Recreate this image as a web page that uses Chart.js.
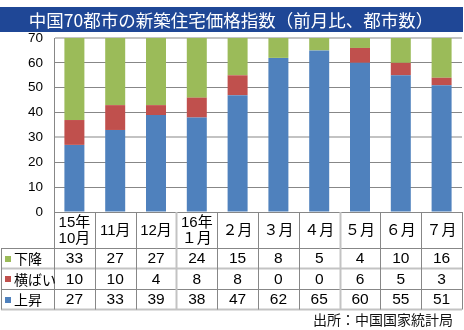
<!DOCTYPE html>
<html><head><meta charset="utf-8">
<script src="https://cdn.jsdelivr.net/npm/chart.js@4.4.1/dist/chart.umd.min.js"></script>
<style>html,body{margin:0;padding:0;background:#fff;}#wrap{width:464px;height:330px;position:relative;}</style>
</head><body><div id="wrap"><canvas id="c" width="464" height="330"></canvas></div>
<script>
const titleText = '中国70都市の新築住宅価格指数（前月比、都市数）';
const sourceText = '出所：中国国家統計局';
const categories = [['15年','10月'],['11月'],['12月'],['16年','１月'],['２月'],['３月'],['４月'],['５月'],['６月'],['７月']];
const seriesNames = ['上昇','横ばい','下降'];
const rising = [27,33,39,38,47,62,65,60,55,51];
const flat = [10,10,4,8,8,0,0,6,5,3];
const falling = [33,27,27,24,15,8,5,4,10,16];
const yMax = 70;
const yStep = 10;

const BLUE='#4F81BD', RED='#C0504D', GREEN='#9BBB59';
const DARK='#878787', LIGHT='#c3c3c3';
const CJK="'Noto Sans CJK JP', sans-serif";
const NUM="'Liberation Sans Narrow','Liberation Sans','Noto Sans CJK JP',sans-serif";

const tablePlugin = {
  id:'tablePlugin',
  beforeDraw(chart){
    const ctx=chart.ctx;
    ctx.save();
    ctx.fillStyle='#fff';ctx.fillRect(0,0,chart.width,chart.height);
    ctx.fillStyle='#1F4796';ctx.fillRect(0,7,463,25);
    ctx.fillStyle='#fff';ctx.font="17.5px "+CJK;ctx.textAlign='center';ctx.textBaseline='middle';
    ctx.fillText(titleText,231,20);
    ctx.restore();
  },
  afterDraw(chart){
    const ctx=chart.ctx, xs=chart.scales.x, ca=chart.chartArea;
    const n=categories.length, w=(ca.right-ca.left)/n;
    const top=ca.bottom, hb=top+36;
    const rowH=20.5;
    const rows=[{name:seriesNames[2],data:falling,color:GREEN},{name:seriesNames[1],data:flat,color:RED},{name:seriesNames[0],data:rising,color:BLUE}];
    const bottom=hb+rowH*rows.length;
    ctx.save();
    const hl=(y,x0,x1,c,lw)=>{ctx.strokeStyle=c;ctx.lineWidth=lw;ctx.beginPath();ctx.moveTo(x0,y);ctx.lineTo(x1,y);ctx.stroke();};
    const vl=(x,y0,y1,c,lw)=>{ctx.strokeStyle=c;ctx.lineWidth=lw;ctx.beginPath();ctx.moveTo(x,y0);ctx.lineTo(x,y1);ctx.stroke();};
    hl(Math.round(top)+0.5,ca.left,ca.right,DARK,1);
    hl(hb+0.5,1,ca.right,DARK,1);
    hl(hb+rowH,1,ca.right,LIGHT,2);
    hl(Math.round(hb+rowH*2)+0.5,1,ca.right,DARK,1);
    hl(bottom,1,ca.right,LIGHT,2);
    vl(1.5,hb,bottom,DARK,1);
    for(let k=0;k<=n;k++){
      const x=Math.round(ca.left+k*w)+0.5;
      vl(x,top,bottom,(k===3||k===7)?LIGHT:DARK,(k===3||k===7)?2:1);
    }
    ctx.fillStyle='#000';ctx.textAlign='center';ctx.textBaseline='middle';
    ctx.font="15px "+NUM;
    categories.forEach((lab,i)=>{
      const cx=xs.getPixelForValue(i);
      const lh=16, cy=top+19;
      lab.forEach((t,j)=>ctx.fillText(t,cx,cy+(j-(lab.length-1)/2)*lh));
    });
    rows.forEach((r,ri)=>{
      const cy=hb+rowH*ri+rowH/2+0.5;
      ctx.fillStyle=r.color;ctx.fillRect(5,Math.round(cy)-3,6,6);
      ctx.fillStyle='#000';ctx.textAlign='left';ctx.font="14px "+CJK;
      ctx.fillText(r.name,14,cy);
      ctx.textAlign='center';ctx.font="15.5px "+NUM;
      r.data.forEach((v,i)=>ctx.fillText(String(v),xs.getPixelForValue(i),cy));
    });
    ctx.textAlign='right';ctx.font="14px "+CJK;ctx.fillStyle='#111';
    ctx.fillText(sourceText,453,320);
    ctx.restore();
  }
};

new Chart(document.getElementById('c'),{
  type:'bar',
  data:{
    labels:categories.map(c=>c.join('')),
    datasets:[
      {label:seriesNames[0],data:rising,backgroundColor:BLUE},
      {label:seriesNames[1],data:flat,backgroundColor:RED},
      {label:seriesNames[2],data:falling,backgroundColor:GREEN}
    ]
  },
  options:{
    responsive:false,animation:false,devicePixelRatio:1,
    layout:{padding:{top:38,left:0,right:2,bottom:118}},
    datasets:{bar:{barPercentage:0.49,categoryPercentage:1}},
    plugins:{legend:{display:false},tooltip:{enabled:false},title:{display:false}},
    scales:{
      x:{stacked:true,display:false},
      y:{stacked:true,min:0,max:yMax,
        ticks:{stepSize:yStep,padding:11,color:'#000',font:{family:"'Liberation Sans',sans-serif",size:13.5}},
        grid:{drawTicks:false,color:c=>(c.tick&&(c.tick.value===30||c.tick.value===70))?LIGHT:DARK,
              lineWidth:c=>(c.tick&&(c.tick.value===30||c.tick.value===70))?2:1},
        border:{color:DARK},
        afterFit(s){s.width=54;}
      }
    }
  },
  plugins:[tablePlugin]
});
</script></body></html>
